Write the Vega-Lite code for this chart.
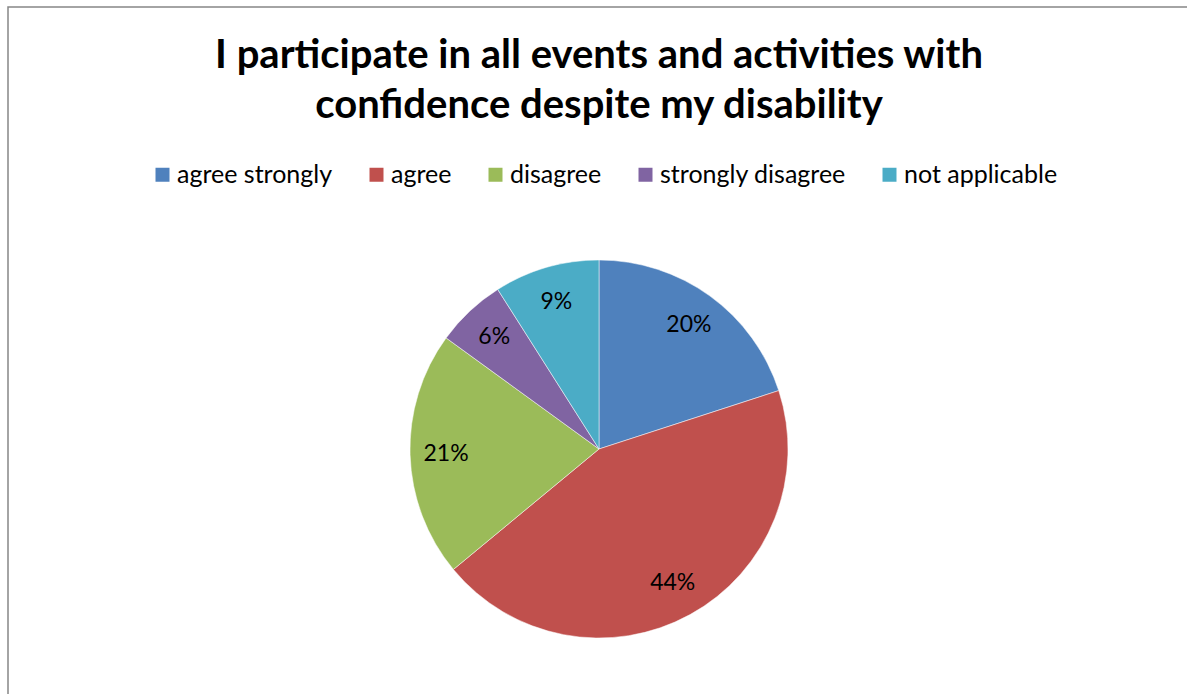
{
  "$schema": "https://vega.github.io/schema/vega-lite/v6.json",
  "autosize": "none",
  "width": 1182,
  "height": 884,
  "padding": {"left": 8, "top": 7, "right": 0, "bottom": 0},
  "background": "white",
  "view": {"stroke": "#868686", "strokeWidth": 1.5},
  "title": {
    "text": ["I participate in all events and activities with", "confidence despite my disability"],
    "anchor": "middle",
    "orient": "top",
    "offset": -119,
    "font": "Lato",
    "fontSize": 40,
    "fontWeight": "bold",
    "color": "#000000",
    "lineHeight": 50
  },
  "data": {
    "values": [
      {"category": "agree strongly", "percent": 20, "order": 1},
      {"category": "agree", "percent": 44, "order": 2},
      {"category": "disagree", "percent": 21, "order": 3},
      {"category": "strongly disagree", "percent": 6, "order": 4},
      {"category": "not applicable", "percent": 9, "order": 5}
    ]
  },
  "transform": [{"calculate": "datum.percent + '%'", "as": "label"}],
  "encoding": {
    "theta": {"field": "percent", "type": "quantitative", "stack": true},
    "order": {"field": "order", "type": "quantitative"},
    "color": {
      "field": "category",
      "type": "nominal",
      "sort": ["agree strongly", "agree", "disagree", "strongly disagree", "not applicable"],
      "scale": {
        "domain": ["agree strongly", "agree", "disagree", "strongly disagree", "not applicable"],
        "range": ["#4F81BD", "#C0504D", "#9BBB59", "#8064A2", "#4BACC6"]
      },
      "legend": {
        "title": null,
        "orient": "none",
        "legendX": 142,
        "legendY": 155,
        "padding": 0,
        "direction": "horizontal",
        "columns": 5,
        "symbolType": "square",
        "symbolSize": 196,
        "symbolStrokeWidth": 0,
        "symbolOpacity": 1,
        "labelFont": "Lato",
        "labelFontSize": 25,
        "labelColor": "#000000",
        "labelOffset": 2,
        "columnPadding": 31,
        "labelLimit": 400
      }
    }
  },
  "layer": [
    {
      "mark": {"type": "arc", "outerRadius": 189, "stroke": "#ffffff", "strokeWidth": 0.5}
    },
    {
      "mark": {"type": "text", "radius": 153, "font": "Lato", "fontSize": 23, "color": "#000000"},
      "encoding": {
        "text": {"field": "label", "type": "nominal"},
        "color": {"value": "#000000"}
      }
    }
  ]
}
